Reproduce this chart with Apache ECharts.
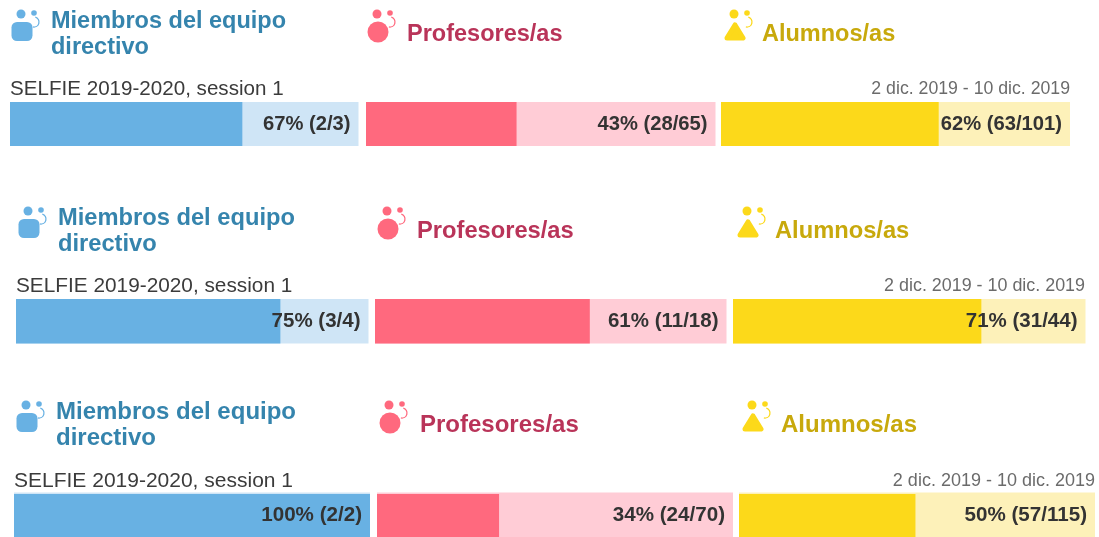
<!DOCTYPE html>
<html><head><meta charset="utf-8">
<script src="https://cdn.jsdelivr.net/npm/echarts@6/dist/echarts.min.js"></script>
<style>html,body{margin:0;padding:0;background:#fff}#c{width:1099px;height:537px}</style></head>
<body><div id="c"></div>
<script>
const groupNames = ['Miembros del equipo\ndirectivo', 'Profesores/as', 'Alumnos/as'];
const sessionName = 'SELFIE 2019-2020, session 1';
const dateRange = '2 dic. 2019 - 10 dic. 2019';
const responded = [[2, 28, 63], [3, 11, 31], [2, 24, 57]];
const invited = [[3, 65, 101], [4, 18, 44], [2, 70, 115]];
const percentLabels = [[67, 43, 62], [75, 61, 71], [100, 34, 50]];

const fillColors = ['#68b1e3', '#ff697e', '#fcd91a'];
const paleColors = ['#cfe5f6', '#ffccd6', '#fdf1b9'];
const titleColors = ['#3584ad', '#b93459', '#c8a90c'];

const rows = [
  {top: 102, h: 44, bars: [[10, 348.5], [366, 349.5], [721, 349]], textX: [51, 407, 762], icon: [10, 366, 723], iconY: 7, titleMid: 33, labelY: 88, font: 23.5, sess: 20.6, date: 17.7, sessX: 10, dateR: 1070, val: 20.2},
  {top: 299, h: 44.5, bars: [[16, 352.5], [375, 351.5], [733, 352.5]], textX: [58, 417, 775], icon: [17, 376, 736], iconY: 204, titleMid: 230, labelY: 285, font: 23.7, sess: 20.8, date: 17.9, sessX: 16, dateR: 1085, val: 20.5},
  {top: 494, h: 46, bars: [[14, 356], [377, 356], [739, 356]], textX: [56, 420, 781], icon: [15, 378, 741], iconY: 398, titleMid: 424, labelY: 480, font: 24, sess: 21, date: 18, sessX: 14, dateR: 1095, val: 20.6}
];

function icon(kind, x, y) {
  const c = fillColors[kind];
  const head = {type: 'circle', shape: {cx: 11, cy: 7, r: 4.5}, style: {fill: c}};
  const dot = {type: 'circle', shape: {cx: 24, cy: 6, r: 2.8}, style: {fill: c}};
  const hook = {type: 'arc', shape: {cx: 24, cy: 15, r: 5, startAngle: -1.3, endAngle: 1.8}, style: {stroke: c, fill: 'none', lineWidth: 1.3}};
  let body;
  if (kind === 0) body = {type: 'rect', shape: {x: 1.5, y: 15, width: 21, height: 19, r: 5.5}, style: {fill: c}};
  if (kind === 1) body = {type: 'circle', shape: {cx: 12, cy: 25, r: 10.5}, style: {fill: c}};
  if (kind === 2) body = {type: 'polygon', shape: {points: [[12, 18], [20, 31], [4, 31]]}, style: {fill: c, stroke: c, lineWidth: 5, lineJoin: 'round'}};
  return {type: 'group', x: x, y: y, silent: true, children: [head, dot, hook, body]};
}

const grid = [], xAxis = [], yAxis = [], series = [], title = [], graphic = [];
rows.forEach((row, r) => {
  title.push({text: sessionName, left: row.sessX, top: row.labelY + 1 - row.sess * 0.5, padding: 0,
    textStyle: {fontFamily: 'Liberation Sans', fontWeight: 'normal', fontSize: row.sess, color: '#3b3b3b'}});
  title.push({text: dateRange, right: 1099 - row.dateR, top: row.labelY + 1 - row.date * 0.5, padding: 0,
    textStyle: {fontFamily: 'Liberation Sans', fontWeight: 'normal', fontSize: row.date, color: '#6b6b6b'}});
  groupNames.forEach((name, g) => {
    const two = name.includes('\n');
    const lh = 26.4;
    title.push({text: name, left: row.textX[g], top: row.titleMid - (two ? lh : lh / 2) + 1.5, padding: 0,
      textStyle: {fontFamily: 'Liberation Sans', fontWeight: 'bold', fontSize: row.font, lineHeight: lh, color: titleColors[g]}});
    graphic.push(icon(g, row.icon[g], row.iconY));
    const i = grid.length;
    grid.push({left: row.bars[g][0], width: row.bars[g][1], top: row.top, height: row.h});
    xAxis.push({gridIndex: i, type: 'value', min: 0, max: invited[r][g], show: false});
    yAxis.push({gridIndex: i, type: 'category', data: [sessionName], show: false});
    series.push({type: 'bar', xAxisIndex: i, yAxisIndex: i, data: [responded[r][g]], barWidth: row.h, z: 2, silent: true, animation: false,
      itemStyle: {color: fillColors[g]}, showBackground: true, backgroundStyle: {color: paleColors[g]}});
    series.push({type: 'bar', xAxisIndex: i, yAxisIndex: i, data: [invited[r][g]], barWidth: row.h, barGap: '-100%', z: 3, silent: true, animation: false,
      itemStyle: {color: 'transparent'},
      label: {show: true, position: 'insideRight', distance: 8, fontFamily: 'Liberation Sans', fontWeight: 'bold', fontSize: row.val, color: '#333',
        formatter: percentLabels[r][g] + '% (' + responded[r][g] + '/' + invited[r][g] + ')'}});
  });
});

echarts.init(document.getElementById('c'), null, {renderer: 'canvas'}).setOption({
  animation: false, backgroundColor: '#fff', title, grid, xAxis, yAxis, series, graphic: {elements: graphic}
});
</script></body></html>
